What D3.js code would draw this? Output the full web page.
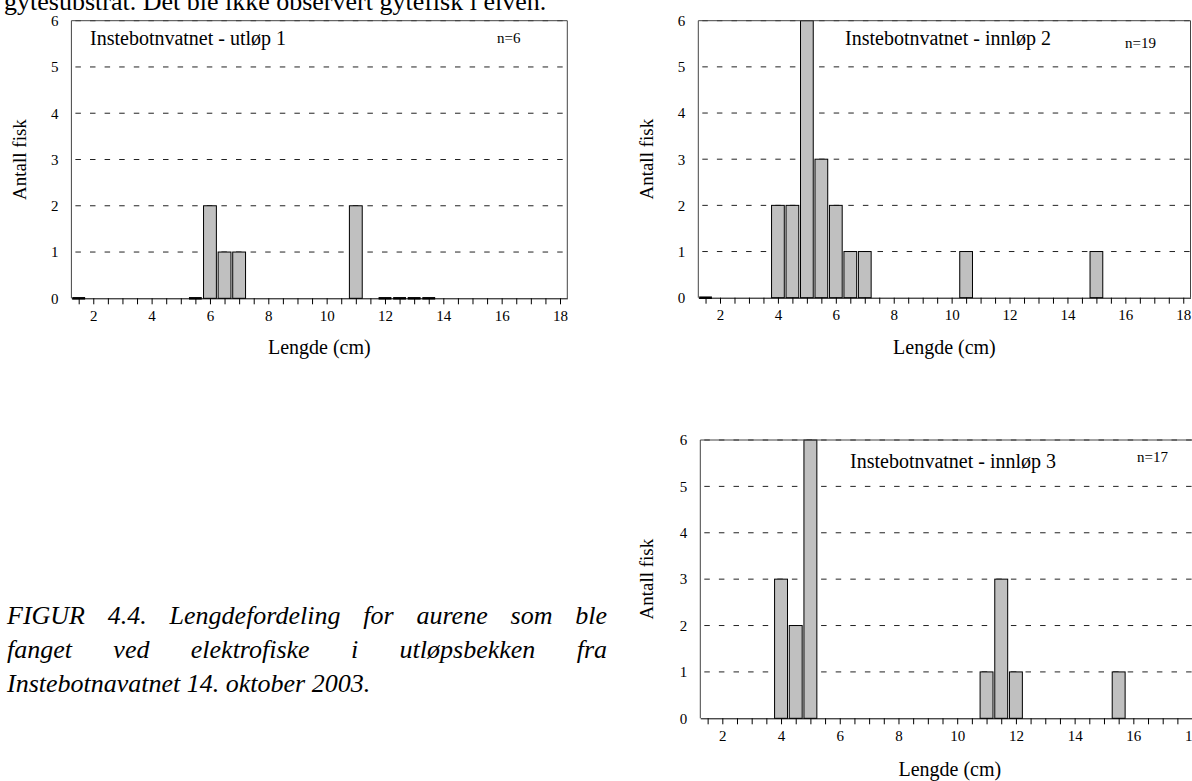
<!DOCTYPE html>
<html><head><meta charset="utf-8">
<script src="https://cdn.jsdelivr.net/npm/d3@7"></script>
<style>
body{margin:0;background:#fff}
svg{display:block}
text{font-family:"Liberation Serif","Times New Roman","DejaVu Serif",serif;fill:#000}
</style>
</head><body>
<svg id="c" width="1192" height="781"></svg>
<script>
// ---- data ----
const panelTitles = ["Instebotnvatnet - utløp 1", "Instebotnvatnet - innløp 2", "Instebotnvatnet - innløp 3"];
const sampleSizes = ["n=6", "n=19", "n=17"];
const lengths1 = [1.5, 5.5, 6, 6.5, 7, 11, 12, 12.5, 13, 13.5];
const counts1  = [0,   0,   2, 1,   1, 2,  0,  0,    0,  0];
const lengths2 = [1.5, 4, 4.5, 5, 5.5, 6, 6.5, 7, 10.5, 15];
const counts2  = [0,   2, 2,   6, 3,   2, 1,   1, 1,    1];
const lengths3 = [4, 4.5, 5, 11, 11.5, 12, 15.5];
const counts3  = [3, 2,   6, 1,  3,    1,  1];
const xTickValues = d3.range(1.5, 18.01, 0.5);
const xTickLabels = [2, 4, 6, 8, 10, 12, 14, 16, 18];
const yTickValues = [0, 1, 2, 3, 4, 5, 6];
const xTitle = "Lengde (cm)";
const yTitle = "Antall fisk";
const bodyText = "gytesubstrat. Det ble ikke observert gytefisk i elven.";
const captionLines = [
  "FIGUR 4.4. Lengdefordeling for aurene som ble",
  "fanget ved elektrofiske i utløpsbekken fra",
  "Instebotnavatnet 14. oktober 2003."
];

const series = [
  {len: lengths1, cnt: counts1},
  {len: lengths2, cnt: counts2},
  {len: lengths3, cnt: counts3}
];

// ---- layout ----
const layout = [
  {left:71.4,  right:567.3,  top:20.7, bottom:298.3, titleX:90,  titleY:45,  nX:497,  nY:43,  yLabX:25.5, xLabDy:56},
  {left:698.3, right:1190.5, top:20.7, bottom:297.7, titleX:845, titleY:45,  nX:1125, nY:48,  yLabX:653,  xLabDy:56},
  {left:700.3, right:1199.4, top:440,  bottom:718.3, titleX:850, titleY:468, nX:1137, nY:462, yLabX:653,  xLabDy:58}
];
const barHalf = 0.22;

const svg = d3.select("#c");

// body text (cut at top)
svg.append("text").attr("x", 4).attr("y", 10).attr("font-size", 26).text(bodyText);

layout.forEach((L, i) => {
  const x = d3.scaleLinear().domain([1.25, 18.25]).range([L.left, L.right]);
  const y = d3.scaleLinear().domain([0, 6]).range([L.bottom, L.top]);
  const g = svg.append("g");

  // dashed gridlines
  g.selectAll("line.grid").data(yTickValues.filter(v => v > 0)).join("line")
    .attr("x1", L.left).attr("x2", L.right)
    .attr("y1", d => y(d)).attr("y2", d => y(d))
    .attr("stroke", "#222").attr("stroke-width", 1)
    .attr("stroke-dasharray", "5.5,9.1").attr("stroke-dashoffset", -4);

  const data = series[i].len.map((l, k) => ({l, c: series[i].cnt[k]}));
  // bars
  g.selectAll("rect.bar").data(data.filter(d => d.c > 0)).join("rect")
    .attr("x", d => x(d.l - barHalf))
    .attr("width", d => x(d.l + barHalf) - x(d.l - barHalf))
    .attr("y", d => y(d.c))
    .attr("height", d => y(0) - y(d.c))
    .attr("fill", "#c0c0c0").attr("stroke", "#000").attr("stroke-width", 1);
  // zero-height bars
  g.selectAll("line.zero").data(data.filter(d => d.c === 0)).join("line")
    .attr("x1", d => x(d.l - barHalf)).attr("x2", d => x(d.l + barHalf))
    .attr("y1", y(0)).attr("y2", y(0))
    .attr("stroke", "#000").attr("stroke-width", 2.5);

  // frame (left, top, right)
  g.append("path")
    .attr("d", `M${L.left},${L.bottom}V${L.top}H${L.right}V${L.bottom}`)
    .attr("fill", "none").attr("stroke", "#444").attr("stroke-width", 1);

  // x axis
  const xa = d3.axisBottom(x).tickValues(xTickValues).tickSize(6).tickSizeOuter(0).tickPadding(6)
    .tickFormat(d => xTickLabels.includes(d) ? d : "");
  const gx = g.append("g").attr("transform", `translate(0,${L.bottom})`).call(xa);
  gx.attr("font-family", null);
  gx.select(".domain").attr("stroke", "#000");
  gx.selectAll(".tick line").attr("stroke", "#000");
  gx.selectAll(".tick text").attr("font-size", 15).attr("fill", "#000");

  // y axis labels
  const ya = d3.axisLeft(y).tickValues(yTickValues).tickSize(0).tickPadding(13).tickFormat(d3.format("d"));
  const gy = g.append("g").attr("transform", `translate(${L.left},0)`).call(ya);
  gy.attr("font-family", null);
  gy.select(".domain").remove();
  gy.selectAll(".tick text").attr("font-size", 15).attr("fill", "#000");

  // titles
  g.append("text").attr("x", L.titleX).attr("y", L.titleY).attr("font-size", 20).text(panelTitles[i]);
  g.append("text").attr("x", L.nX).attr("y", L.nY).attr("font-size", 15).text(sampleSizes[i]);
  g.append("text").attr("x", (L.left + L.right) / 2).attr("y", L.bottom + L.xLabDy)
    .attr("text-anchor", "middle").attr("font-size", 20).text(xTitle);
  g.append("text").attr("transform", `translate(${L.yLabX},${(L.top + L.bottom) / 2}) rotate(-90)`)
    .attr("text-anchor", "middle").attr("font-size", 19).text(yTitle);
});

// caption, justified
const capLeft = 7, capRight = 607, capY = [624, 658, 692];
captionLines.forEach((line, li) => {
  const t = svg.append("text").attr("y", capY[li]).attr("font-size", 26).attr("font-style", "italic");
  const words = line.split(" ");
  if (li === captionLines.length - 1) { t.attr("x", capLeft).text(line); return; }
  const spans = words.map(w => t.append("tspan").text(w));
  const widths = spans.map(s => s.node().getComputedTextLength());
  const total = d3.sum(widths);
  const gap = (capRight - capLeft - total) / (words.length - 1);
  let cx = capLeft;
  spans.forEach((s, k) => { s.attr("x", cx); cx += widths[k] + gap; });
});
</script>
</body></html>
